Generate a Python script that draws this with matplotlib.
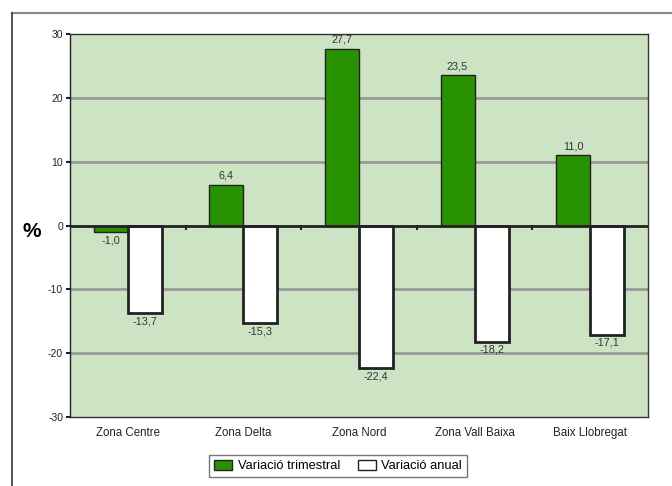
import matplotlib.pyplot as plt
import numpy as np
from matplotlib.lines import Line2D
from matplotlib.patches import Patch

plt.rcParams['font.family'] = ['Liberation Sans', 'DejaVu Sans']

# data
zones = ["Zona Centre", "Zona Delta", "Zona Nord", "Zona Vall Baixa", "Baix Llobregat"]
var_trimestral = [-1.0, 6.4, 27.7, 23.5, 11.0]
var_anual = [-13.7, -15.3, -22.4, -18.2, -17.1]
yticks = [-30, -20, -10, 0, 10, 20, 30]

green = "#299200"
bg = "#cce4c4"

fig = plt.figure(figsize=(6.72, 4.86), dpi=100)
W, H = 672, 486
ax = fig.add_axes([70 / W, 1 - 417 / H, (648 - 70) / W, (417 - 34) / H])
ax.set_facecolor(bg)

x = np.arange(len(zones)) + 0.5
bw = 0.294

for g in [-20, -10, 10, 20]:
    ax.axhline(g, color="#999999", lw=2, zorder=1)

ax.bar(x - bw / 2, var_trimestral, bw, color=green, edgecolor="#222222", lw=1, zorder=3)
ax.bar(x + bw / 2, var_anual, bw, color="white", edgecolor="#222222", lw=2, zorder=3)

ax.axhline(0, color="#222222", lw=2, zorder=4)
for b in range(1, len(zones)):
    ax.plot([b, b], [0, -0.6], color="#222222", lw=1.5, zorder=4)

def fmt(v):
    return f"{v:.1f}".replace(".", ",")

for xi, v in zip(x - bw / 2, var_trimestral):
    if v >= 0:
        ax.text(xi, v + 0.6, fmt(v), ha="center", va="bottom", fontsize=7.8, color="#333333", zorder=5)
    else:
        ax.text(xi, v - 0.5, fmt(v), ha="center", va="top", fontsize=7.8, color="#333333", zorder=5)
for xi, v in zip(x + bw / 2, var_anual):
    ax.text(xi, v - 0.5, fmt(v), ha="center", va="top", fontsize=7.8, color="#333333", zorder=5)

ax.set_xlim(0, len(zones))
ax.set_ylim(-30, 30)
ax.set_yticks(yticks)
ax.set_yticklabels([str(t) for t in yticks], fontsize=7.5, color="#222222")
ax.set_xticks(x)
ax.set_xticklabels(zones, fontsize=8.3, color="#222222")
ax.tick_params(axis="x", length=0, pad=7)
ax.tick_params(axis="y", length=3, width=1.5, color="#222222", pad=2)
for s in ax.spines.values():
    s.set_color("#333333")
    s.set_linewidth(1)
ax.spines["left"].set_color("#222222")

fig.text(32 / W, 1 - 231 / H, "%", fontsize=15, fontweight="bold", ha="center", va="center")

handles = [Patch(facecolor=green, edgecolor="#222222", lw=1),
           Patch(facecolor="white", edgecolor="#222222", lw=1)]
leg = fig.legend(handles, ["Variació trimestral", "Variació anual"], ncol=2,
                 loc="center", bbox_to_anchor=(338 / W, 1 - 466 / H), fontsize=9.3,
                 frameon=True, fancybox=False, handlelength=1.4, handleheight=0.8,
                 handletextpad=0.4, columnspacing=1.4, borderpad=0.4)
leg.get_frame().set_edgecolor("#555555")
leg.get_frame().set_linewidth(1)

# outer frame (only top and left visible)
fig.add_artist(Line2D([12 / W, 1], [1 - 13 / H, 1 - 13 / H], transform=fig.transFigure, color="#888888", lw=1.5))
fig.add_artist(Line2D([12 / W, 12 / W], [0, 1 - 13 / H], transform=fig.transFigure, color="#333333", lw=1.2))

fig.savefig("out.png", dpi=100)
